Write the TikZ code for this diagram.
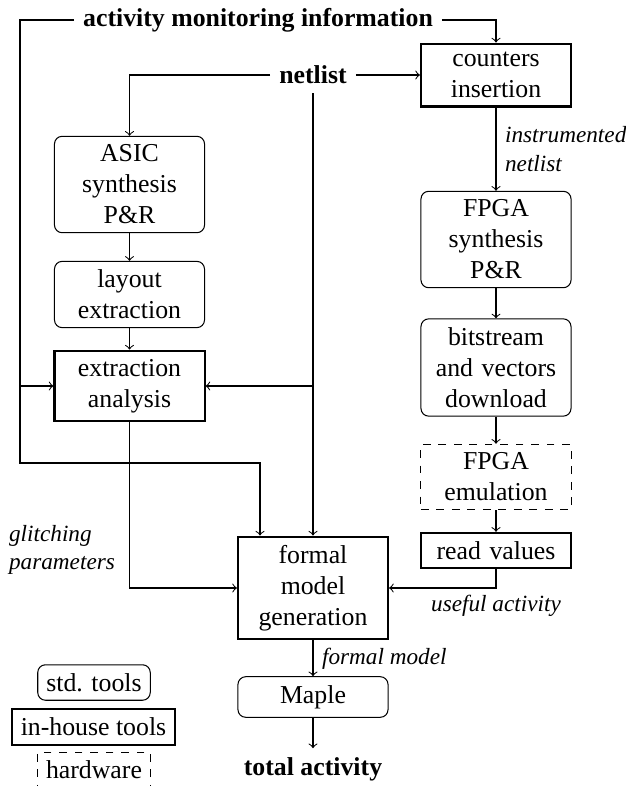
\documentclass[tikz,border=0pt]{standalone}
\usepackage{fontspec}
\setmainfont{Liberation Serif}
\usetikzlibrary{calc}
\tikzset{
%Define standard arrow tip
>=to,
%Define styles for the three kinds of tools
tool/.style={draw, rounded corners=3pt},
inhouse/.style={draw, thick},
hardw/.style={draw, dashed},
wide/.style={text width=1.81cm, align=center},
%Define styles for arrows and texts
flow/.style={->},
lbl/.style={font=\small\itshape, align=left},
io/.style={font=\bfseries},
}

\begin{document}
\begin{tikzpicture}[x=0.3876pt, y=-0.3876pt]
    %Size of the picture (pixels of the original)
    \useasboundingbox (0,0) rectangle (626,786);
    %Inputs
    \node[io] (act) at (258,20) {activity monitoring information};
    \node[io] (netlist) at (313,75) {netlist};
    %ASIC flow
    \node[tool, wide] (asic) at (129.5,184.5) {ASIC\\synthesis\\P\&R};
    \node[tool, wide] (layout) at (129.5,294.5) {layout\\extraction};
    \node[inhouse, wide] (extraction) at (129.5,386) {extraction\\analysis};
    %FPGA flow
    \node[inhouse, wide] (counters) at (496,75) {counters\\insertion};
    \node[tool, wide] (fpga) at (496,239.5) {FPGA\\synthesis\\P\&R};
    \node[tool, wide] (bitstream) at (496,367.5) {bitstream\\and vectors\\download};
    \node[hardw, wide] (emul) at (496,477) {FPGA\\emulation};
    \node[inhouse, wide] (readval) at (496,550.5) {read values};
    %Model
    \node[inhouse, wide] (formal) at (313,588) {formal\\model\\generation};
    \node[tool, wide] (maple) at (313,697) {Maple};
    \node[io] (total) at (313,769) {total activity};
    %Legend
    \node[tool] (legstd) at (94,682.5) {std. tools};
    \node[inhouse] (leginh) at (93.5,727) {in-house tools};
    \node[hardw] (leghw) at (94,770) {hardware};

    %Activity monitoring information
    \coordinate (lft) at (20,463);
    \draw[flow] (act.west) -| (lft) -| ($(formal.north)+(-53,0)$);
    \draw[flow] (lft |- extraction.west) -- (extraction.west);
    \draw[flow] (act.east) -| (counters.north);
    %Netlist
    \draw[flow] (netlist.west) -| (asic.north);
    \draw[flow] (netlist.east) -- (counters.west);
    \draw[flow] (netlist.south) -- (formal.north);
    \draw[flow] (netlist.south |- extraction.east) -- (extraction.east);
    %ASIC side
    \draw[flow] (asic) -- (layout);
    \draw[flow] (layout) -- (extraction);
    \draw[flow] (extraction.south) |- (formal.west);
    \node[lbl] (glitchlbl) at (62,550) {glitching\\parameters};
    %FPGA side
    \draw[flow] (counters) -- node[lbl, right] (instlbl) {instrumented\\netlist} (fpga);
    \draw[flow] (fpga) -- (bitstream);
    \draw[flow] (bitstream) -- (emul);
    \draw[flow] (emul) -- (readval);
    \draw[flow] (readval.south) |- (formal.east);
    \node[lbl] (usefullbl) at (496,606) {useful activity};
    %Output
    \draw[flow] (formal) -- node[lbl, right] (formlbl) {formal model} (maple);
    \draw[flow] (maple) -- (total);
\end{tikzpicture}
\end{document}
